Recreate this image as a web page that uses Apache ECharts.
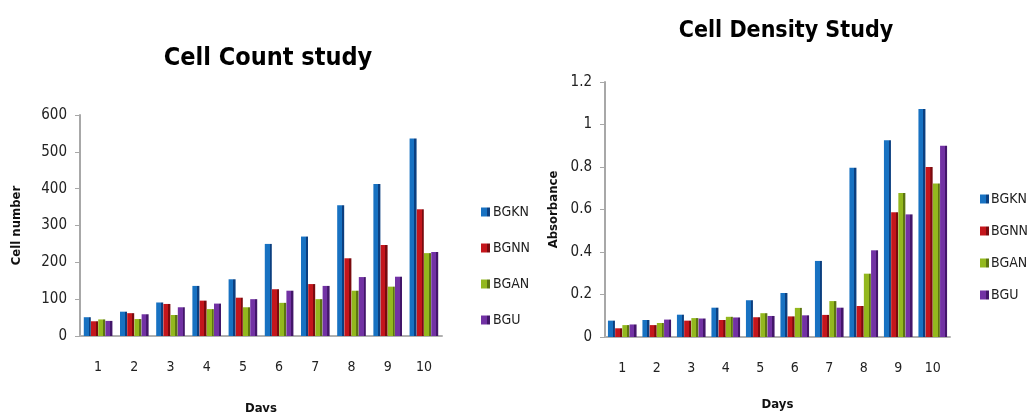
<!DOCTYPE html>
<html>
<head>
<meta charset="utf-8">
<script src="https://cdn.jsdelivr.net/npm/echarts@6/dist/echarts.min.js"></script>
<style>html,body{margin:0;padding:0;background:#fff}#c{width:1030px;height:412px}</style>
</head>
<body>
<div id="c"></div>
<script>
const days = ['1','2','3','4','5','6','7','8','9','10'];
const seriesNames = ['BGKN','BGNN','BGAN','BGU'];
const countBGKN = [51, 66, 91, 136, 154, 250, 270, 355, 413, 536];
const countBGNN = [40, 62, 87, 96, 104, 127, 141, 211, 247, 344];
const countBGAN = [45, 46, 57, 73, 78, 90, 100, 123, 134, 225];
const countBGU  = [41, 59, 78, 88, 100, 123, 136, 160, 161, 228];
const densBGKN = [0.077, 0.080, 0.105, 0.138, 0.173, 0.207, 0.358, 0.797, 0.926, 1.073];
const densBGNN = [0.041, 0.056, 0.077, 0.080, 0.093, 0.097, 0.104, 0.146, 0.587, 0.800];
const densBGAN = [0.056, 0.066, 0.089, 0.095, 0.112, 0.137, 0.169, 0.298, 0.678, 0.722];
const densBGU  = [0.059, 0.082, 0.087, 0.092, 0.099, 0.102, 0.138, 0.408, 0.577, 0.900];
const countTicks = [0, 100, 200, 300, 400, 500, 600];
const densTicks = [0, 0.2, 0.4, 0.6, 0.8, 1, 1.2];

const baseColors = ['#1872c2', '#c4161c', '#93b81e', '#7232a4'];
const darkColors = ['#0b3f80', '#7a0a0e', '#5c7510', '#43166a'];
function grad(i) {
  return new echarts.graphic.LinearGradient(0, 0, 1, 0, [
    {offset: 0, color: baseColors[i]},
    {offset: 0.68, color: baseColors[i]},
    {offset: 0.7, color: darkColors[i]},
    {offset: 1, color: darkColors[i]}
  ]);
}
const FONT = 'DejaVu Sans Condensed, Roboto, sans-serif';
const chart = echarts.init(document.getElementById('c'), null, {renderer: 'canvas'});
const countData = [countBGKN, countBGNN, countBGAN, countBGU];
const densData = [densBGKN, densBGNN, densBGAN, densBGU];
const series = [];
seriesNames.forEach((n, i) => {
  series.push({name: n, type: 'bar', xAxisIndex: 0, yAxisIndex: 0, data: countData[i],
    barWidth: 7, barGap: '3%', itemStyle: {color: grad(i)}});
});
seriesNames.forEach((n, i) => {
  series.push({name: n, type: 'bar', xAxisIndex: 1, yAxisIndex: 1, data: densData[i],
    barWidth: 7, barGap: '3%', itemStyle: {color: grad(i)}});
});
function xAx(gi, name, nameGap) {
  return {type: 'category', gridIndex: gi, data: days,
    axisLine: {lineStyle: {color: '#b0b0b0', width: 2}}, axisTick: {show: false},
    axisLabel: {color: '#222', fontSize: 14, fontFamily: FONT, margin: 24},
    name: name, nameLocation: 'middle', nameGap: nameGap,
    nameTextStyle: {color: '#111', fontWeight: 'bold', fontSize: 13, fontFamily: FONT}};
}
function yAx(gi, ticks, name, nameGap, fmt) {
  return {type: 'value', gridIndex: gi, min: ticks[0], max: ticks[ticks.length - 1],
    interval: ticks[1] - ticks[0],
    axisLine: {show: true, lineStyle: {color: '#a8a8a8', width: 2}},
    axisTick: {show: true, length: 5, lineStyle: {color: '#a8a8a8'}},
    splitLine: {show: false},
    axisLabel: {color: '#222', fontSize: 15, fontFamily: FONT, margin: 13, formatter: fmt},
    name: name, nameLocation: 'middle', nameGap: nameGap, nameRotate: 90,
    nameTextStyle: {color: '#111', fontWeight: 'bold', fontSize: 13, fontFamily: FONT}};
}
chart.setOption({
  animation: false,
  title: [
    {text: 'Cell Count study', left: 263, top: 41, textAlign: 'center',
      textStyle: {fontSize: 25, fontWeight: 'bold', color: '#000', fontFamily: FONT}},
    {text: 'Cell Density Study', left: 781, top: 15, textAlign: 'center',
      textStyle: {fontSize: 23, fontWeight: 'bold', color: '#000', fontFamily: FONT}}
  ],
  legend: [
    {data: seriesNames, orient: 'vertical', left: 476, top: 200, itemWidth: 9, itemHeight: 9,
      itemGap: 22, icon: 'rect', textStyle: {fontSize: 14, color: '#222', fontFamily: FONT, padding: [0,0,0,-2]}},
    {data: seriesNames, orient: 'vertical', left: 975, top: 187, itemWidth: 9, itemHeight: 9,
      itemGap: 18, icon: 'rect', padding: 5, textStyle: {fontSize: 14, color: '#222', fontFamily: FONT, padding: [0,0,0,-3]}}
  ],
  grid: [
    {left: 80, right: 588, top: 115, bottom: 76, outerBoundsMode: 'none', containLabel: false},
    {left: 605, right: 80, top: 82, bottom: 75, outerBoundsMode: 'none', containLabel: false}
  ],
  xAxis: [xAx(0, 'Days', 66), xAx(1, 'Days', 61)],
  yAxis: [yAx(0, countTicks, 'Cell number', 57, v => String(v)),
          yAx(1, densTicks, 'Absorbance', 45, v => String(Math.round(v * 10) / 10))],
  series: series
});
</script>
</body>
</html>
